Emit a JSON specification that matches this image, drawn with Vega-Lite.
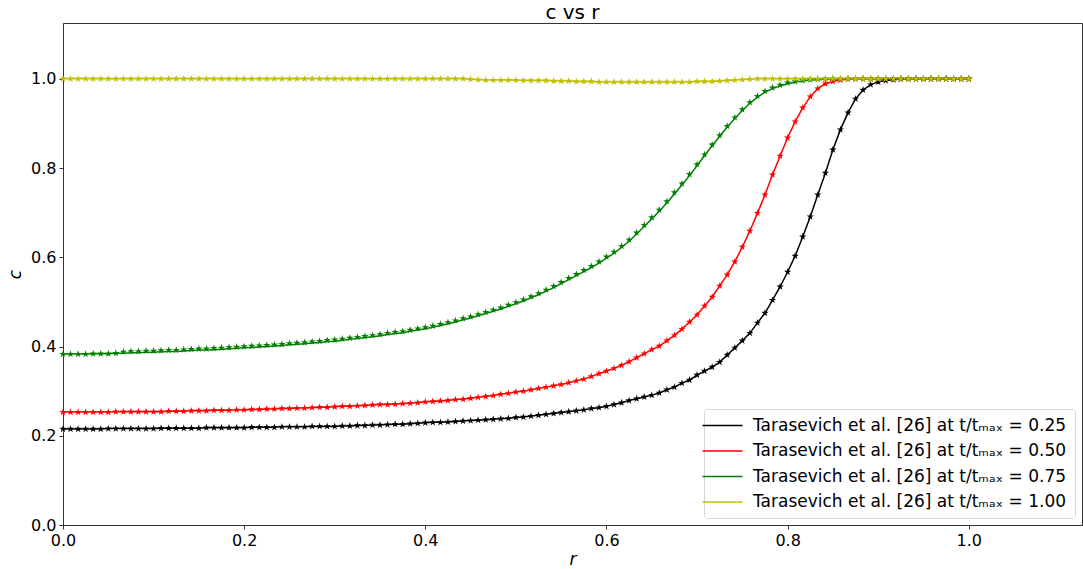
{
  "$schema": "https://vega.github.io/schema/vega-lite/v6.json",
  "width": 1019,
  "height": 502,
  "autosize": {"type": "none"},
  "padding": {"left": 63, "top": 23, "right": 1, "bottom": 44},
  "background": "white",
  "title": {"text": "c vs r", "fontSize": 20, "font": "DejaVu Sans", "fontWeight": "normal", "color": "#000000", "offset": 0},
  "config": {
    "view": {"stroke": "#333333", "strokeWidth": 1},
    "axis": {
      "labelFont": "DejaVu Sans", "labelFontSize": 16, "labelColor": "#000000", "labelFlush": false,
      "titleFont": "DejaVu Sans", "titleFontSize": 17, "titleFontStyle": "italic", "titleFontWeight": "normal", "titleColor": "#000000",
      "tickColor": "#000000", "tickSize": 4, "tickWidth": 0.8,
      "domainColor": "#333333", "domainWidth": 1, "grid": false, "labelPadding": 3
    }
  },
  "datasets": {
    "curves": [
      {"s":"0.25","r":0,"c":0.215,"m":0.215},{"s":"0.25","r":0.0083,"c":0.215,"m":0.215},{"s":"0.25","r":0.0167,"c":0.215,"m":0.215},{"s":"0.25","r":0.025,"c":0.215,"m":0.215},{"s":"0.25","r":0.0333,"c":0.215,"m":0.215},{"s":"0.25","r":0.0417,"c":0.215,"m":0.215},{"s":"0.25","r":0.05,"c":0.216,"m":0.216},{"s":"0.25","r":0.0583,"c":0.216,"m":0.216},{"s":"0.25","r":0.0667,"c":0.216,"m":0.216},{"s":"0.25","r":0.075,"c":0.216,"m":0.216},{"s":"0.25","r":0.0833,"c":0.216,"m":0.216},{"s":"0.25","r":0.0917,"c":0.216,"m":0.216},{"s":"0.25","r":0.1,"c":0.216,"m":0.216},
      {"s":"0.25","r":0.1083,"c":0.217,"m":0.217},{"s":"0.25","r":0.1167,"c":0.217,"m":0.217},{"s":"0.25","r":0.125,"c":0.217,"m":0.217},{"s":"0.25","r":0.1333,"c":0.217,"m":0.217},{"s":"0.25","r":0.1417,"c":0.217,"m":0.217},{"s":"0.25","r":0.15,"c":0.217,"m":0.217},{"s":"0.25","r":0.1583,"c":0.218,"m":0.218},{"s":"0.25","r":0.1667,"c":0.218,"m":0.218},{"s":"0.25","r":0.175,"c":0.218,"m":0.218},{"s":"0.25","r":0.1833,"c":0.218,"m":0.218},{"s":"0.25","r":0.1917,"c":0.218,"m":0.218},{"s":"0.25","r":0.2,"c":0.218,"m":0.218},
      {"s":"0.25","r":0.2083,"c":0.219,"m":0.219},{"s":"0.25","r":0.2167,"c":0.219,"m":0.219},{"s":"0.25","r":0.225,"c":0.219,"m":0.219},{"s":"0.25","r":0.2333,"c":0.219,"m":0.219},{"s":"0.25","r":0.2417,"c":0.22,"m":0.22},{"s":"0.25","r":0.25,"c":0.22,"m":0.22},{"s":"0.25","r":0.2583,"c":0.22,"m":0.22},{"s":"0.25","r":0.2667,"c":0.22,"m":0.22},{"s":"0.25","r":0.275,"c":0.221,"m":0.221},{"s":"0.25","r":0.2833,"c":0.221,"m":0.221},{"s":"0.25","r":0.2917,"c":0.221,"m":0.221},{"s":"0.25","r":0.3,"c":0.221,"m":0.221},
      {"s":"0.25","r":0.3083,"c":0.222,"m":0.222},{"s":"0.25","r":0.3167,"c":0.222,"m":0.222},{"s":"0.25","r":0.325,"c":0.223,"m":0.223},{"s":"0.25","r":0.3333,"c":0.223,"m":0.223},{"s":"0.25","r":0.3417,"c":0.224,"m":0.224},{"s":"0.25","r":0.35,"c":0.224,"m":0.224},{"s":"0.25","r":0.3583,"c":0.225,"m":0.225},{"s":"0.25","r":0.3667,"c":0.226,"m":0.226},{"s":"0.25","r":0.375,"c":0.226,"m":0.226},{"s":"0.25","r":0.3833,"c":0.227,"m":0.227},{"s":"0.25","r":0.3917,"c":0.228,"m":0.228},{"s":"0.25","r":0.4,"c":0.229,"m":0.229},
      {"s":"0.25","r":0.4083,"c":0.23,"m":0.23},{"s":"0.25","r":0.4167,"c":0.23,"m":0.23},{"s":"0.25","r":0.425,"c":0.231,"m":0.231},{"s":"0.25","r":0.4333,"c":0.232,"m":0.232},{"s":"0.25","r":0.4417,"c":0.233,"m":0.233},{"s":"0.25","r":0.45,"c":0.234,"m":0.234},{"s":"0.25","r":0.4583,"c":0.235,"m":0.235},{"s":"0.25","r":0.4667,"c":0.236,"m":0.236},{"s":"0.25","r":0.475,"c":0.237,"m":0.237},{"s":"0.25","r":0.4833,"c":0.238,"m":0.238},{"s":"0.25","r":0.4917,"c":0.239,"m":0.239},{"s":"0.25","r":0.5,"c":0.241,"m":0.241},
      {"s":"0.25","r":0.5083,"c":0.242,"m":0.242},{"s":"0.25","r":0.5167,"c":0.244,"m":0.244},{"s":"0.25","r":0.525,"c":0.246,"m":0.246},{"s":"0.25","r":0.5333,"c":0.248,"m":0.248},{"s":"0.25","r":0.5417,"c":0.25,"m":0.25},{"s":"0.25","r":0.55,"c":0.252,"m":0.252},{"s":"0.25","r":0.5583,"c":0.254,"m":0.254},{"s":"0.25","r":0.5667,"c":0.256,"m":0.256},{"s":"0.25","r":0.575,"c":0.258,"m":0.258},{"s":"0.25","r":0.5833,"c":0.261,"m":0.261},{"s":"0.25","r":0.5917,"c":0.263,"m":0.263},{"s":"0.25","r":0.6,"c":0.266,"m":0.266},
      {"s":"0.25","r":0.6083,"c":0.27,"m":0.27},{"s":"0.25","r":0.6167,"c":0.274,"m":0.274},{"s":"0.25","r":0.625,"c":0.279,"m":0.279},{"s":"0.25","r":0.6333,"c":0.283,"m":0.283},{"s":"0.25","r":0.6417,"c":0.287,"m":0.287},{"s":"0.25","r":0.65,"c":0.291,"m":0.291},{"s":"0.25","r":0.6583,"c":0.296,"m":0.296},{"s":"0.25","r":0.6667,"c":0.303,"m":0.303},{"s":"0.25","r":0.675,"c":0.309,"m":0.309},{"s":"0.25","r":0.6833,"c":0.318,"m":0.318},{"s":"0.25","r":0.6917,"c":0.325,"m":0.325},{"s":"0.25","r":0.7,"c":0.336,"m":0.336},
      {"s":"0.25","r":0.7083,"c":0.345,"m":0.345},{"s":"0.25","r":0.7167,"c":0.354,"m":0.354},{"s":"0.25","r":0.725,"c":0.365,"m":0.365},{"s":"0.25","r":0.7333,"c":0.381,"m":0.381},{"s":"0.25","r":0.7417,"c":0.397,"m":0.397},{"s":"0.25","r":0.75,"c":0.413,"m":0.413},{"s":"0.25","r":0.7583,"c":0.43,"m":0.43},{"s":"0.25","r":0.7667,"c":0.453,"m":0.453},{"s":"0.25","r":0.775,"c":0.475,"m":0.475},{"s":"0.25","r":0.7833,"c":0.504,"m":0.504},{"s":"0.25","r":0.7917,"c":0.534,"m":0.534},{"s":"0.25","r":0.8,"c":0.567,"m":0.567},
      {"s":"0.25","r":0.8083,"c":0.603,"m":0.603},{"s":"0.25","r":0.8167,"c":0.646,"m":0.646},{"s":"0.25","r":0.825,"c":0.691,"m":0.691},{"s":"0.25","r":0.8333,"c":0.74,"m":0.74},{"s":"0.25","r":0.8417,"c":0.789,"m":0.789},{"s":"0.25","r":0.85,"c":0.841,"m":0.841},{"s":"0.25","r":0.8583,"c":0.886,"m":0.886},{"s":"0.25","r":0.8667,"c":0.924,"m":0.924},{"s":"0.25","r":0.875,"c":0.955,"m":0.955},{"s":"0.25","r":0.8833,"c":0.975,"m":0.975},{"s":"0.25","r":0.8917,"c":0.987,"m":0.987},{"s":"0.25","r":0.9,"c":0.993,"m":0.993},
      {"s":"0.25","r":0.9083,"c":0.996,"m":0.996},{"s":"0.25","r":0.9167,"c":0.998,"m":0.998},{"s":"0.25","r":0.925,"c":0.999,"m":0.999},{"s":"0.25","r":0.9333,"c":1,"m":1},{"s":"0.25","r":0.9417,"c":1,"m":1},{"s":"0.25","r":0.95,"c":1,"m":1},{"s":"0.25","r":0.9583,"c":1,"m":1},{"s":"0.25","r":0.9667,"c":1,"m":1},{"s":"0.25","r":0.975,"c":1,"m":1},{"s":"0.25","r":0.9833,"c":1,"m":1},{"s":"0.25","r":0.9917,"c":1,"m":1},{"s":"0.25","r":1,"c":1,"m":1},

      {"s":"0.50","r":0,"c":0.253,"m":0.253},{"s":"0.50","r":0.0083,"c":0.253,"m":0.253},{"s":"0.50","r":0.0167,"c":0.253,"m":0.253},{"s":"0.50","r":0.025,"c":0.253,"m":0.253},{"s":"0.50","r":0.0333,"c":0.253,"m":0.253},{"s":"0.50","r":0.0417,"c":0.253,"m":0.253},{"s":"0.50","r":0.05,"c":0.253,"m":0.253},{"s":"0.50","r":0.0583,"c":0.254,"m":0.254},{"s":"0.50","r":0.0667,"c":0.254,"m":0.254},{"s":"0.50","r":0.075,"c":0.254,"m":0.254},{"s":"0.50","r":0.0833,"c":0.254,"m":0.254},{"s":"0.50","r":0.0917,"c":0.254,"m":0.254},{"s":"0.50","r":0.1,"c":0.254,"m":0.254},
      {"s":"0.50","r":0.1083,"c":0.254,"m":0.254},{"s":"0.50","r":0.1167,"c":0.255,"m":0.255},{"s":"0.50","r":0.125,"c":0.255,"m":0.255},{"s":"0.50","r":0.1333,"c":0.255,"m":0.255},{"s":"0.50","r":0.1417,"c":0.256,"m":0.256},{"s":"0.50","r":0.15,"c":0.256,"m":0.256},{"s":"0.50","r":0.1583,"c":0.256,"m":0.256},{"s":"0.50","r":0.1667,"c":0.257,"m":0.257},{"s":"0.50","r":0.175,"c":0.257,"m":0.257},{"s":"0.50","r":0.1833,"c":0.257,"m":0.257},{"s":"0.50","r":0.1917,"c":0.258,"m":0.258},{"s":"0.50","r":0.2,"c":0.258,"m":0.258},
      {"s":"0.50","r":0.2083,"c":0.259,"m":0.259},{"s":"0.50","r":0.2167,"c":0.259,"m":0.259},{"s":"0.50","r":0.225,"c":0.26,"m":0.26},{"s":"0.50","r":0.2333,"c":0.26,"m":0.26},{"s":"0.50","r":0.2417,"c":0.261,"m":0.261},{"s":"0.50","r":0.25,"c":0.261,"m":0.261},{"s":"0.50","r":0.2583,"c":0.262,"m":0.262},{"s":"0.50","r":0.2667,"c":0.262,"m":0.262},{"s":"0.50","r":0.275,"c":0.263,"m":0.263},{"s":"0.50","r":0.2833,"c":0.264,"m":0.264},{"s":"0.50","r":0.2917,"c":0.264,"m":0.264},{"s":"0.50","r":0.3,"c":0.265,"m":0.265},
      {"s":"0.50","r":0.3083,"c":0.266,"m":0.266},{"s":"0.50","r":0.3167,"c":0.266,"m":0.266},{"s":"0.50","r":0.325,"c":0.267,"m":0.267},{"s":"0.50","r":0.3333,"c":0.268,"m":0.268},{"s":"0.50","r":0.3417,"c":0.269,"m":0.269},{"s":"0.50","r":0.35,"c":0.27,"m":0.27},{"s":"0.50","r":0.3583,"c":0.27,"m":0.27},{"s":"0.50","r":0.3667,"c":0.271,"m":0.271},{"s":"0.50","r":0.375,"c":0.272,"m":0.272},{"s":"0.50","r":0.3833,"c":0.273,"m":0.273},{"s":"0.50","r":0.3917,"c":0.274,"m":0.274},{"s":"0.50","r":0.4,"c":0.276,"m":0.276},
      {"s":"0.50","r":0.4083,"c":0.277,"m":0.277},{"s":"0.50","r":0.4167,"c":0.278,"m":0.278},{"s":"0.50","r":0.425,"c":0.279,"m":0.279},{"s":"0.50","r":0.4333,"c":0.281,"m":0.281},{"s":"0.50","r":0.4417,"c":0.282,"m":0.282},{"s":"0.50","r":0.45,"c":0.284,"m":0.284},{"s":"0.50","r":0.4583,"c":0.286,"m":0.286},{"s":"0.50","r":0.4667,"c":0.288,"m":0.288},{"s":"0.50","r":0.475,"c":0.29,"m":0.29},{"s":"0.50","r":0.4833,"c":0.293,"m":0.293},{"s":"0.50","r":0.4917,"c":0.295,"m":0.295},{"s":"0.50","r":0.5,"c":0.298,"m":0.298},
      {"s":"0.50","r":0.5083,"c":0.3,"m":0.3},{"s":"0.50","r":0.5167,"c":0.303,"m":0.303},{"s":"0.50","r":0.525,"c":0.306,"m":0.306},{"s":"0.50","r":0.5333,"c":0.309,"m":0.309},{"s":"0.50","r":0.5417,"c":0.312,"m":0.312},{"s":"0.50","r":0.55,"c":0.315,"m":0.315},{"s":"0.50","r":0.5583,"c":0.319,"m":0.319},{"s":"0.50","r":0.5667,"c":0.323,"m":0.323},{"s":"0.50","r":0.575,"c":0.327,"m":0.327},{"s":"0.50","r":0.5833,"c":0.333,"m":0.333},{"s":"0.50","r":0.5917,"c":0.339,"m":0.339},{"s":"0.50","r":0.6,"c":0.345,"m":0.345},
      {"s":"0.50","r":0.6083,"c":0.351,"m":0.351},{"s":"0.50","r":0.6167,"c":0.358,"m":0.358},{"s":"0.50","r":0.625,"c":0.366,"m":0.366},{"s":"0.50","r":0.6333,"c":0.375,"m":0.375},{"s":"0.50","r":0.6417,"c":0.384,"m":0.384},{"s":"0.50","r":0.65,"c":0.393,"m":0.393},{"s":"0.50","r":0.6583,"c":0.401,"m":0.401},{"s":"0.50","r":0.6667,"c":0.413,"m":0.413},{"s":"0.50","r":0.675,"c":0.425,"m":0.425},{"s":"0.50","r":0.6833,"c":0.439,"m":0.439},{"s":"0.50","r":0.6917,"c":0.455,"m":0.455},{"s":"0.50","r":0.7,"c":0.471,"m":0.471},
      {"s":"0.50","r":0.7083,"c":0.491,"m":0.491},{"s":"0.50","r":0.7167,"c":0.511,"m":0.511},{"s":"0.50","r":0.725,"c":0.536,"m":0.536},{"s":"0.50","r":0.7333,"c":0.561,"m":0.561},{"s":"0.50","r":0.7417,"c":0.59,"m":0.59},{"s":"0.50","r":0.75,"c":0.623,"m":0.623},{"s":"0.50","r":0.7583,"c":0.659,"m":0.659},{"s":"0.50","r":0.7667,"c":0.699,"m":0.699},{"s":"0.50","r":0.775,"c":0.74,"m":0.74},{"s":"0.50","r":0.7833,"c":0.785,"m":0.785},{"s":"0.50","r":0.7917,"c":0.827,"m":0.827},{"s":"0.50","r":0.8,"c":0.868,"m":0.868},
      {"s":"0.50","r":0.8083,"c":0.904,"m":0.904},{"s":"0.50","r":0.8167,"c":0.935,"m":0.935},{"s":"0.50","r":0.825,"c":0.96,"m":0.96},{"s":"0.50","r":0.8333,"c":0.978,"m":0.978},{"s":"0.50","r":0.8417,"c":0.989,"m":0.989},{"s":"0.50","r":0.85,"c":0.994,"m":0.994},{"s":"0.50","r":0.8583,"c":0.997,"m":0.997},{"s":"0.50","r":0.8667,"c":0.999,"m":0.999},{"s":"0.50","r":0.875,"c":1,"m":1},{"s":"0.50","r":0.8833,"c":1,"m":1},{"s":"0.50","r":0.8917,"c":1,"m":1},{"s":"0.50","r":0.9,"c":1,"m":1},
      {"s":"0.50","r":0.9083,"c":1,"m":1},{"s":"0.50","r":0.9167,"c":1,"m":1},{"s":"0.50","r":0.925,"c":1,"m":1},{"s":"0.50","r":0.9333,"c":1,"m":1},{"s":"0.50","r":0.9417,"c":1,"m":1},{"s":"0.50","r":0.95,"c":1,"m":1},{"s":"0.50","r":0.9583,"c":1,"m":1},{"s":"0.50","r":0.9667,"c":1,"m":1},{"s":"0.50","r":0.975,"c":1,"m":1},{"s":"0.50","r":0.9833,"c":1,"m":1},{"s":"0.50","r":0.9917,"c":1,"m":1},{"s":"0.50","r":1,"c":1,"m":1},

      {"s":"0.75","r":0,"c":0.383,"m":0.383},{"s":"0.75","r":0.0083,"c":0.383,"m":0.383},{"s":"0.75","r":0.0167,"c":0.383,"m":0.383},{"s":"0.75","r":0.025,"c":0.383,"m":0.383},{"s":"0.75","r":0.0333,"c":0.384,"m":0.384},{"s":"0.75","r":0.0417,"c":0.384,"m":0.384},{"s":"0.75","r":0.05,"c":0.384,"m":0.384},{"s":"0.75","r":0.0583,"c":0.385,"m":0.385},{"s":"0.75","r":0.0667,"c":0.385,"m":0.388},{"s":"0.75","r":0.075,"c":0.386,"m":0.389},{"s":"0.75","r":0.0833,"c":0.386,"m":0.389},{"s":"0.75","r":0.0917,"c":0.387,"m":0.39},{"s":"0.75","r":0.1,"c":0.387,"m":0.39},
      {"s":"0.75","r":0.1083,"c":0.388,"m":0.391},{"s":"0.75","r":0.1167,"c":0.389,"m":0.392},{"s":"0.75","r":0.125,"c":0.389,"m":0.392},{"s":"0.75","r":0.1333,"c":0.39,"m":0.393},{"s":"0.75","r":0.1417,"c":0.391,"m":0.394},{"s":"0.75","r":0.15,"c":0.392,"m":0.395},{"s":"0.75","r":0.1583,"c":0.392,"m":0.395},{"s":"0.75","r":0.1667,"c":0.393,"m":0.396},{"s":"0.75","r":0.175,"c":0.394,"m":0.397},{"s":"0.75","r":0.1833,"c":0.395,"m":0.398},{"s":"0.75","r":0.1917,"c":0.396,"m":0.399},{"s":"0.75","r":0.2,"c":0.397,"m":0.4},
      {"s":"0.75","r":0.2083,"c":0.398,"m":0.401},{"s":"0.75","r":0.2167,"c":0.399,"m":0.402},{"s":"0.75","r":0.225,"c":0.4,"m":0.403},{"s":"0.75","r":0.2333,"c":0.401,"m":0.404},{"s":"0.75","r":0.2417,"c":0.402,"m":0.405},{"s":"0.75","r":0.25,"c":0.404,"m":0.407},{"s":"0.75","r":0.2583,"c":0.405,"m":0.408},{"s":"0.75","r":0.2667,"c":0.406,"m":0.409},{"s":"0.75","r":0.275,"c":0.408,"m":0.411},{"s":"0.75","r":0.2833,"c":0.409,"m":0.412},{"s":"0.75","r":0.2917,"c":0.411,"m":0.414},{"s":"0.75","r":0.3,"c":0.412,"m":0.415},
      {"s":"0.75","r":0.3083,"c":0.414,"m":0.417},{"s":"0.75","r":0.3167,"c":0.416,"m":0.419},{"s":"0.75","r":0.325,"c":0.418,"m":0.421},{"s":"0.75","r":0.3333,"c":0.42,"m":0.423},{"s":"0.75","r":0.3417,"c":0.422,"m":0.425},{"s":"0.75","r":0.35,"c":0.424,"m":0.427},{"s":"0.75","r":0.3583,"c":0.427,"m":0.43},{"s":"0.75","r":0.3667,"c":0.429,"m":0.432},{"s":"0.75","r":0.375,"c":0.431,"m":0.434},{"s":"0.75","r":0.3833,"c":0.434,"m":0.437},{"s":"0.75","r":0.3917,"c":0.437,"m":0.44},{"s":"0.75","r":0.4,"c":0.44,"m":0.443},
      {"s":"0.75","r":0.4083,"c":0.443,"m":0.446},{"s":"0.75","r":0.4167,"c":0.447,"m":0.45},{"s":"0.75","r":0.425,"c":0.451,"m":0.454},{"s":"0.75","r":0.4333,"c":0.455,"m":0.458},{"s":"0.75","r":0.4417,"c":0.46,"m":0.463},{"s":"0.75","r":0.45,"c":0.464,"m":0.467},{"s":"0.75","r":0.4583,"c":0.469,"m":0.472},{"s":"0.75","r":0.4667,"c":0.474,"m":0.477},{"s":"0.75","r":0.475,"c":0.479,"m":0.482},{"s":"0.75","r":0.4833,"c":0.484,"m":0.487},{"s":"0.75","r":0.4917,"c":0.49,"m":0.493},{"s":"0.75","r":0.5,"c":0.496,"m":0.499},
      {"s":"0.75","r":0.5083,"c":0.502,"m":0.505},{"s":"0.75","r":0.5167,"c":0.509,"m":0.512},{"s":"0.75","r":0.525,"c":0.516,"m":0.519},{"s":"0.75","r":0.5333,"c":0.524,"m":0.527},{"s":"0.75","r":0.5417,"c":0.532,"m":0.535},{"s":"0.75","r":0.55,"c":0.541,"m":0.544},{"s":"0.75","r":0.5583,"c":0.55,"m":0.553},{"s":"0.75","r":0.5667,"c":0.559,"m":0.562},{"s":"0.75","r":0.575,"c":0.568,"m":0.571},{"s":"0.75","r":0.5833,"c":0.577,"m":0.58},{"s":"0.75","r":0.5917,"c":0.587,"m":0.59},{"s":"0.75","r":0.6,"c":0.598,"m":0.601},
      {"s":"0.75","r":0.6083,"c":0.609,"m":0.612},{"s":"0.75","r":0.6167,"c":0.622,"m":0.625},{"s":"0.75","r":0.625,"c":0.636,"m":0.639},{"s":"0.75","r":0.6333,"c":0.652,"m":0.655},{"s":"0.75","r":0.6417,"c":0.669,"m":0.672},{"s":"0.75","r":0.65,"c":0.686,"m":0.689},{"s":"0.75","r":0.6583,"c":0.703,"m":0.706},{"s":"0.75","r":0.6667,"c":0.722,"m":0.725},{"s":"0.75","r":0.675,"c":0.742,"m":0.745},{"s":"0.75","r":0.6833,"c":0.762,"m":0.765},{"s":"0.75","r":0.6917,"c":0.783,"m":0.786},{"s":"0.75","r":0.7,"c":0.805,"m":0.808},
      {"s":"0.75","r":0.7083,"c":0.828,"m":0.83},{"s":"0.75","r":0.7167,"c":0.85,"m":0.852},{"s":"0.75","r":0.725,"c":0.871,"m":0.873},{"s":"0.75","r":0.7333,"c":0.892,"m":0.894},{"s":"0.75","r":0.7417,"c":0.911,"m":0.913},{"s":"0.75","r":0.75,"c":0.929,"m":0.931},{"s":"0.75","r":0.7583,"c":0.945,"m":0.947},{"s":"0.75","r":0.7667,"c":0.959,"m":0.961},{"s":"0.75","r":0.775,"c":0.97,"m":0.972},{"s":"0.75","r":0.7833,"c":0.978,"m":0.98},{"s":"0.75","r":0.7917,"c":0.984,"m":0.986},{"s":"0.75","r":0.8,"c":0.989,"m":0.991},
      {"s":"0.75","r":0.8083,"c":0.993,"m":0.994},{"s":"0.75","r":0.8167,"c":0.995,"m":0.996},{"s":"0.75","r":0.825,"c":0.997,"m":0.998},{"s":"0.75","r":0.8333,"c":0.998,"m":0.999},{"s":"0.75","r":0.8417,"c":0.999,"m":1},{"s":"0.75","r":0.85,"c":0.999,"m":1},{"s":"0.75","r":0.8583,"c":1,"m":1},{"s":"0.75","r":0.8667,"c":1,"m":1},{"s":"0.75","r":0.875,"c":1,"m":1},{"s":"0.75","r":0.8833,"c":1,"m":1},{"s":"0.75","r":0.8917,"c":1,"m":1},{"s":"0.75","r":0.9,"c":1,"m":1},
      {"s":"0.75","r":0.9083,"c":1,"m":1},{"s":"0.75","r":0.9167,"c":1,"m":1},{"s":"0.75","r":0.925,"c":1,"m":1},{"s":"0.75","r":0.9333,"c":1,"m":1},{"s":"0.75","r":0.9417,"c":1,"m":1},{"s":"0.75","r":0.95,"c":1,"m":1},{"s":"0.75","r":0.9583,"c":1,"m":1},{"s":"0.75","r":0.9667,"c":1,"m":1},{"s":"0.75","r":0.975,"c":1,"m":1},{"s":"0.75","r":0.9833,"c":1,"m":1},{"s":"0.75","r":0.9917,"c":1,"m":1},{"s":"0.75","r":1,"c":1,"m":1},

      {"s":"1.00","r":0,"c":1,"m":1},{"s":"1.00","r":0.0083,"c":1,"m":1},{"s":"1.00","r":0.0167,"c":1,"m":1},{"s":"1.00","r":0.025,"c":1,"m":1},{"s":"1.00","r":0.0333,"c":1,"m":1},{"s":"1.00","r":0.0417,"c":1,"m":1},{"s":"1.00","r":0.05,"c":1,"m":1},{"s":"1.00","r":0.0583,"c":1,"m":1},{"s":"1.00","r":0.0667,"c":1,"m":1},{"s":"1.00","r":0.075,"c":1,"m":1},{"s":"1.00","r":0.0833,"c":1,"m":1},{"s":"1.00","r":0.0917,"c":1,"m":1},{"s":"1.00","r":0.1,"c":1,"m":1},
      {"s":"1.00","r":0.1083,"c":1,"m":1},{"s":"1.00","r":0.1167,"c":1,"m":1},{"s":"1.00","r":0.125,"c":1,"m":1},{"s":"1.00","r":0.1333,"c":1,"m":1},{"s":"1.00","r":0.1417,"c":1,"m":1},{"s":"1.00","r":0.15,"c":1,"m":1},{"s":"1.00","r":0.1583,"c":1,"m":1},{"s":"1.00","r":0.1667,"c":1,"m":1},{"s":"1.00","r":0.175,"c":1,"m":1},{"s":"1.00","r":0.1833,"c":1,"m":1},{"s":"1.00","r":0.1917,"c":1,"m":1},{"s":"1.00","r":0.2,"c":1,"m":1},
      {"s":"1.00","r":0.2083,"c":1,"m":1},{"s":"1.00","r":0.2167,"c":1,"m":1},{"s":"1.00","r":0.225,"c":1,"m":1},{"s":"1.00","r":0.2333,"c":1,"m":1},{"s":"1.00","r":0.2417,"c":1,"m":1},{"s":"1.00","r":0.25,"c":1,"m":1},{"s":"1.00","r":0.2583,"c":1,"m":1},{"s":"1.00","r":0.2667,"c":1,"m":1},{"s":"1.00","r":0.275,"c":1,"m":1},{"s":"1.00","r":0.2833,"c":1,"m":1},{"s":"1.00","r":0.2917,"c":1,"m":1},{"s":"1.00","r":0.3,"c":1,"m":1},
      {"s":"1.00","r":0.3083,"c":1,"m":1},{"s":"1.00","r":0.3167,"c":1,"m":1},{"s":"1.00","r":0.325,"c":1,"m":1},{"s":"1.00","r":0.3333,"c":1,"m":1},{"s":"1.00","r":0.3417,"c":1,"m":1},{"s":"1.00","r":0.35,"c":1,"m":1},{"s":"1.00","r":0.3583,"c":1,"m":1},{"s":"1.00","r":0.3667,"c":1,"m":1},{"s":"1.00","r":0.375,"c":1,"m":1},{"s":"1.00","r":0.3833,"c":1,"m":1},{"s":"1.00","r":0.3917,"c":1,"m":1},{"s":"1.00","r":0.4,"c":1,"m":1},
      {"s":"1.00","r":0.4083,"c":1,"m":1},{"s":"1.00","r":0.4167,"c":1,"m":1},{"s":"1.00","r":0.425,"c":1,"m":1},{"s":"1.00","r":0.4333,"c":1,"m":1},{"s":"1.00","r":0.4417,"c":1,"m":1},{"s":"1.00","r":0.45,"c":0.999,"m":0.999},{"s":"1.00","r":0.4583,"c":0.998,"m":0.998},{"s":"1.00","r":0.4667,"c":0.997,"m":0.997},{"s":"1.00","r":0.475,"c":0.997,"m":0.997},{"s":"1.00","r":0.4833,"c":0.997,"m":0.997},{"s":"1.00","r":0.4917,"c":0.997,"m":0.997},{"s":"1.00","r":0.5,"c":0.997,"m":0.997},
      {"s":"1.00","r":0.5083,"c":0.996,"m":0.996},{"s":"1.00","r":0.5167,"c":0.996,"m":0.996},{"s":"1.00","r":0.525,"c":0.996,"m":0.996},{"s":"1.00","r":0.5333,"c":0.996,"m":0.996},{"s":"1.00","r":0.5417,"c":0.995,"m":0.995},{"s":"1.00","r":0.55,"c":0.995,"m":0.995},{"s":"1.00","r":0.5583,"c":0.995,"m":0.995},{"s":"1.00","r":0.5667,"c":0.994,"m":0.994},{"s":"1.00","r":0.575,"c":0.994,"m":0.994},{"s":"1.00","r":0.5833,"c":0.994,"m":0.994},{"s":"1.00","r":0.5917,"c":0.993,"m":0.993},{"s":"1.00","r":0.6,"c":0.993,"m":0.993},
      {"s":"1.00","r":0.6083,"c":0.993,"m":0.993},{"s":"1.00","r":0.6167,"c":0.993,"m":0.993},{"s":"1.00","r":0.625,"c":0.993,"m":0.993},{"s":"1.00","r":0.6333,"c":0.993,"m":0.993},{"s":"1.00","r":0.6417,"c":0.993,"m":0.993},{"s":"1.00","r":0.65,"c":0.993,"m":0.993},{"s":"1.00","r":0.6583,"c":0.993,"m":0.993},{"s":"1.00","r":0.6667,"c":0.993,"m":0.993},{"s":"1.00","r":0.675,"c":0.993,"m":0.993},{"s":"1.00","r":0.6833,"c":0.993,"m":0.993},{"s":"1.00","r":0.6917,"c":0.993,"m":0.993},{"s":"1.00","r":0.7,"c":0.994,"m":0.994},
      {"s":"1.00","r":0.7083,"c":0.994,"m":0.994},{"s":"1.00","r":0.7167,"c":0.994,"m":0.994},{"s":"1.00","r":0.725,"c":0.995,"m":0.995},{"s":"1.00","r":0.7333,"c":0.996,"m":0.996},{"s":"1.00","r":0.7417,"c":0.997,"m":0.997},{"s":"1.00","r":0.75,"c":0.998,"m":0.998},{"s":"1.00","r":0.7583,"c":0.999,"m":0.999},{"s":"1.00","r":0.7667,"c":1,"m":1},{"s":"1.00","r":0.775,"c":1,"m":1},{"s":"1.00","r":0.7833,"c":1,"m":1},{"s":"1.00","r":0.7917,"c":1,"m":1},{"s":"1.00","r":0.8,"c":1,"m":1},
      {"s":"1.00","r":0.8083,"c":1,"m":1},{"s":"1.00","r":0.8167,"c":1,"m":1},{"s":"1.00","r":0.825,"c":1,"m":1},{"s":"1.00","r":0.8333,"c":1,"m":1},{"s":"1.00","r":0.8417,"c":1,"m":1},{"s":"1.00","r":0.85,"c":1,"m":1},{"s":"1.00","r":0.8583,"c":1,"m":1},{"s":"1.00","r":0.8667,"c":1,"m":1},{"s":"1.00","r":0.875,"c":1,"m":1},{"s":"1.00","r":0.8833,"c":1,"m":1},{"s":"1.00","r":0.8917,"c":1,"m":1},{"s":"1.00","r":0.9,"c":1,"m":1},
      {"s":"1.00","r":0.9083,"c":1,"m":1},{"s":"1.00","r":0.9167,"c":1,"m":1},{"s":"1.00","r":0.925,"c":1,"m":1},{"s":"1.00","r":0.9333,"c":1,"m":1},{"s":"1.00","r":0.9417,"c":1,"m":1},{"s":"1.00","r":0.95,"c":1,"m":1},{"s":"1.00","r":0.9583,"c":1,"m":1},{"s":"1.00","r":0.9667,"c":1,"m":1},{"s":"1.00","r":0.975,"c":1,"m":1},{"s":"1.00","r":0.9833,"c":1,"m":1},{"s":"1.00","r":0.9917,"c":1,"m":1},{"s":"1.00","r":1,"c":1,"m":1}
    ]
  },
  "data": {"name": "curves"},
  "encoding": {
    "x": {
      "field": "r", "type": "quantitative",
      "scale": {"domain": [0, 1.125], "nice": false, "zero": false},
      "axis": {"values": [0, 0.2, 0.4, 0.6, 0.8, 1.0], "format": ".1f", "title": "r", "titlePadding": 3}
    }
  },
  "layer": [
    {
      "mark": {"type": "line", "strokeWidth": 1.5, "interpolate": "linear"},
      "encoding": {
        "y": {
          "field": "c", "type": "quantitative",
          "scale": {"domain": [0, 1.125], "nice": false, "zero": false},
          "axis": {"values": [0, 0.2, 0.4, 0.6, 0.8, 1.0], "format": ".1f", "title": "c", "titlePadding": 6}
        },
        "color": {
          "field": "s", "type": "nominal",
          "scale": {"domain": ["0.25", "0.50", "0.75", "1.00"], "range": ["#000000", "#ff0000", "#008000", "#bfbf00"]},
          "legend": {
            "orient": "bottom-right", "offset": 7, "title": null,
            "labelExpr": "'Tarasevich et al. [26] at t/tₘₐₓ = ' + datum.label",
            "labelFont": "DejaVu Sans", "labelFontSize": 17, "labelColor": "#000000", "labelLimit": 400, "labelOffset": 22,
            "symbolType": "M-3.333,0H3.333", "symbolSize": 144, "symbolStrokeWidth": 1.5, "symbolOffset": 2,
            "strokeColor": "#d6d6d6", "fillColor": "#ffffff", "cornerRadius": 3, "padding": 8, "rowPadding": 7.5
          }
        },
        "detail": {"field": "s"}
      }
    },
    {
      "mark": {
        "type": "point", "filled": true, "opacity": 1, "size": 60,
        "shape": "M0,-1L0.2245,-0.309L0.951,-0.309L0.3633,0.118L0.588,0.809L0,0.382L-0.588,0.809L-0.3633,0.118L-0.951,-0.309L-0.2245,-0.309Z"
      },
      "encoding": {
        "y": {"field": "m", "type": "quantitative"},
        "color": {"field": "s", "type": "nominal", "legend": null}
      }
    }
  ]
}
